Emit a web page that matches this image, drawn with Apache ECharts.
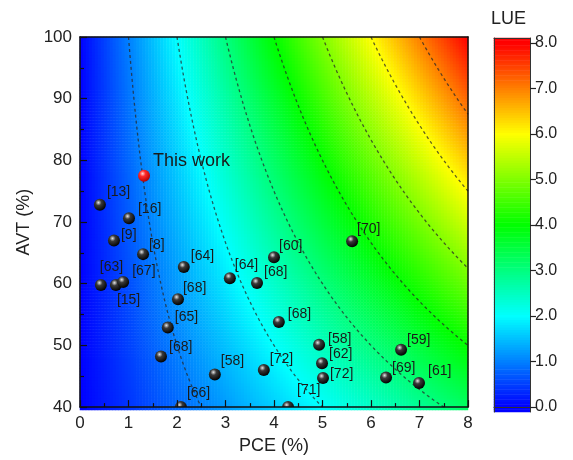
<!DOCTYPE html>
<html>
<head>
<meta charset="utf-8">
<script src="https://cdn.jsdelivr.net/npm/echarts@6/dist/echarts.min.js"></script>
<style>
  html, body { margin: 0; padding: 0; background: #fff; }
  #chart { width: 573px; height: 460px; }
</style>
</head>
<body>
<div id="chart"></div>
<script>
// reference points
const refs = ["[13]", "[16]", "[9]", "[8]", "[63]", "[15]", "[67]", "[64]", "[68]", "[65]", "[68]", "[58]", "[66]",
  "[64]", "[68]", "[60]", "[68]", "[72]", "[71]", "[58]", "[62]", "[72]", "[70]", "[59]", "[69]", "[61]"];
const refPce = [0.41, 1.01, 0.70, 1.30, 0.43, 0.74, 0.89, 2.14, 2.02, 1.81, 1.67, 2.78, 2.08,
  3.09, 3.65, 4.00, 4.10, 3.79, 4.29, 4.93, 4.99, 5.01, 5.61, 6.62, 6.31, 6.99];
const refAvt = [72.8, 70.6, 67.0, 64.8, 59.8, 59.8, 60.3, 62.7, 57.5, 52.9, 48.2, 45.3, 40.0,
  60.9, 60.1, 64.3, 53.8, 46.0, 40.0, 50.1, 47.1, 44.7, 66.9, 49.3, 44.8, 43.9];
const thisWorkPce = [1.32];
const thisWorkAvt = [77.5];

// LUE contour levels and colour bar ticks
const lueLevels = [1, 2, 3, 4, 5, 6, 7];
const lueTicks = [0, 1, 2, 3, 4, 5, 6, 7, 8];

// label nudges (px) per reference point, [dx, dy] from the marker centre
const labelNudge = [[7, -13], [9, -9], [7, -5], [6, -9], [-1, -18], [1, 15], [9, -11], [7, -11], [5, -11],
  [7, -10], [8, -9], [6, -13], [6, -14], [5, -13], [7, -11], [5, -11], [9, -8], [6, -11], [9, -17],
  [9, -6], [7, -9], [7, -4], [5, -12], [6, -10], [6, -9], [9, -12]];

const FONT = "Liberation Sans";
const lue = (pce, avt) => pce * avt / 100;

// background surface, sampled at cell centres
const nx = 130, ny = 125;
const cellX = [], cellY = [], surface = [];
for (let i = 0; i < nx; i++) cellX.push(i);
for (let j = 0; j < ny; j++) cellY.push(j);
for (let i = 0; i < nx; i++) {
  for (let j = 0; j < ny; j++) {
    const p = (i + 0.5) * 8 / nx;
    const a = 40 + (j + 0.5) * 60 / ny;
    surface.push([i, j, lue(p, a)]);
  }
}

// colour bar strip
const barMin = -0.11, barMax = 8.11, nb = 150;
const barRows = [], barData = [];
for (let k = 0; k < nb; k++) {
  barRows.push(k);
  barData.push([0, k, barMin + (k + 0.5) * (barMax - barMin) / nb]);
}

// iso-LUE curves: AVT = 100 * LUE / PCE
const contourSeries = lueLevels.map(c => {
  const pts = [];
  const x0 = c, x1 = Math.min(8, c / 0.4);
  for (let s = 0; s <= 80; s++) {
    const x = x0 + (x1 - x0) * s / 80;
    pts.push([x, 100 * c / x]);
  }
  return {
    type: "line", xAxisIndex: 0, yAxisIndex: 0, data: pts, showSymbol: false, symbol: "none",
    lineStyle: { color: "rgba(40,40,40,0.75)", width: 1.3, type: [3, 3] }, z: 3, silent: true
  };
});

function sphere(light, mid, dark) {
  return new echarts.graphic.RadialGradient(0.38, 0.32, 0.7, [
    { offset: 0, color: light }, { offset: 0.35, color: mid }, { offset: 1, color: dark }
  ]);
}

function pointSeries(pce, avt, names, nudge, colors, fontSize) {
  return {
    type: "custom", xAxisIndex: 0, yAxisIndex: 0, clip: true, z: 4,
    data: pce.map((p, i) => [p, avt[i]]),
    renderItem(params, api) {
      const pt = api.coord([api.value(0), api.value(1)]);
      const n = nudge[params.dataIndex];
      return {
        type: "group",
        children: [
          { type: "circle", shape: { cx: pt[0], cy: pt[1], r: 6 }, style: { fill: sphere(colors[0], colors[1], colors[2]) } },
          {
            type: "text", x: pt[0] + n[0], y: pt[1] + n[1],
            style: { text: names[params.dataIndex], fill: "#1a1a1a", fontSize: fontSize, fontFamily: FONT, align: "left", verticalAlign: "middle" }
          }
        ]
      };
    }
  };
}

const chart = echarts.init(document.getElementById("chart"));
const lineOnly = { show: true, lineStyle: { color: "#111", width: 1.5 } };

chart.setOption({
  animation: false,
  backgroundColor: "#fff",
  title: {
    text: "LUE", left: 491, top: 10, padding: 0,
    textStyle: { fontFamily: FONT, fontSize: 18, fontWeight: "normal", color: "#222" }
  },
  grid: [
    { left: 80, top: 37, width: 388, height: 373 },
    { left: 80, top: 37, width: 388, height: 373 },
    { left: 494, top: 38, width: 36, height: 374 }
  ],
  xAxis: [
    {
      gridIndex: 0, type: "value", min: 0, max: 8, interval: 1, z: 5,
      name: "PCE (%)", nameLocation: "middle", nameGap: 28,
      nameTextStyle: { fontFamily: FONT, fontSize: 18, color: "#222" },
      axisLine: { onZero: false, lineStyle: { color: "#111", width: 1.5 } },
      axisTick: { inside: true, length: 7, lineStyle: { color: "#111", width: 1.2 } },
      minorTick: { show: true, splitNumber: 2, length: 4, lineStyle: { color: "#111", width: 1.2 } },
      splitLine: { show: false },
      axisLabel: { fontFamily: FONT, fontSize: 17, color: "#222", margin: 8 }
    },
    { gridIndex: 0, type: "value", min: 0, max: 8, position: "top", z: 5, axisLine: lineOnly, axisTick: { show: false }, axisLabel: { show: false }, splitLine: { show: false } },
    { gridIndex: 1, type: "category", data: cellX, show: false },
    { gridIndex: 2, type: "category", data: ["LUE"], z: 5, axisLine: { show: true, lineStyle: { color: "#333", width: 1 } }, axisTick: { show: false }, axisLabel: { show: false } },
    { gridIndex: 2, type: "category", data: ["LUE"], position: "top", z: 5, axisLine: { show: true, lineStyle: { color: "#333", width: 1 } }, axisTick: { show: false }, axisLabel: { show: false } }
  ],
  yAxis: [
    {
      gridIndex: 0, type: "value", min: 40, max: 100, interval: 10, z: 5,
      name: "AVT (%)", nameLocation: "middle", nameGap: 44,
      nameTextStyle: { fontFamily: FONT, fontSize: 18, color: "#222" },
      axisLine: { show: true, onZero: false, lineStyle: { color: "#111", width: 1.5 } },
      axisTick: { show: true, inside: true, length: 7, lineStyle: { color: "#111", width: 1.2 } },
      minorTick: { show: true, splitNumber: 2, length: 4, lineStyle: { color: "#111", width: 1.2 } },
      splitLine: { show: false },
      axisLabel: { fontFamily: FONT, fontSize: 17, color: "#222", margin: 8 }
    },
    { gridIndex: 0, type: "value", min: 40, max: 100, position: "right", z: 5, axisLine: { show: true, onZero: false, lineStyle: { color: "#111", width: 1.5 } }, axisTick: { show: false }, axisLabel: { show: false }, splitLine: { show: false } },
    { gridIndex: 1, type: "category", data: cellY, show: false },
    { gridIndex: 2, type: "category", data: barRows, position: "left", z: 5, axisLine: { show: true, lineStyle: { color: "#333", width: 1 } }, axisTick: { show: false }, axisLabel: { show: false } },
    {
      gridIndex: 2, type: "value", min: barMin, max: barMax, position: "right", z: 5,
      axisLine: { show: true, onZero: false, lineStyle: { color: "#333", width: 1 } },
      axisTick: { show: true, inside: false, length: 6, customValues: lueTicks, lineStyle: { color: "#222", width: 1.2 } },
      axisLabel: { show: true, customValues: lueTicks, formatter: v => v.toFixed(1), fontFamily: FONT, fontSize: 16, color: "#222", margin: 5 },
      splitLine: { show: false }
    }
  ],
  visualMap: {
    type: "continuous", show: false, min: 0, max: 8, dimension: 2, seriesIndex: [0, 1],
    inRange: { color: ["#0000ff", "#00ffff", "#00ff00", "#ffff00", "#ff0000"] }
  },
  series: [
    { type: "heatmap", xAxisIndex: 2, yAxisIndex: 2, data: surface, progressive: 0, silent: true, itemStyle: { borderWidth: 0 }, emphasis: { disabled: true } },
    { type: "heatmap", xAxisIndex: 3, yAxisIndex: 3, data: barData, progressive: 0, silent: true, itemStyle: { borderWidth: 0 }, emphasis: { disabled: true } },
    ...contourSeries,
    pointSeries(refPce, refAvt, refs, labelNudge, ["#e6e6e6", "#3a3a3a", "#000"], 14),
    pointSeries(thisWorkPce, thisWorkAvt, ["This work"], [[9, -15]], ["#ffd6d6", "#ff2a2a", "#b00000"], 18)
  ]
});
</script>
</body>
</html>
